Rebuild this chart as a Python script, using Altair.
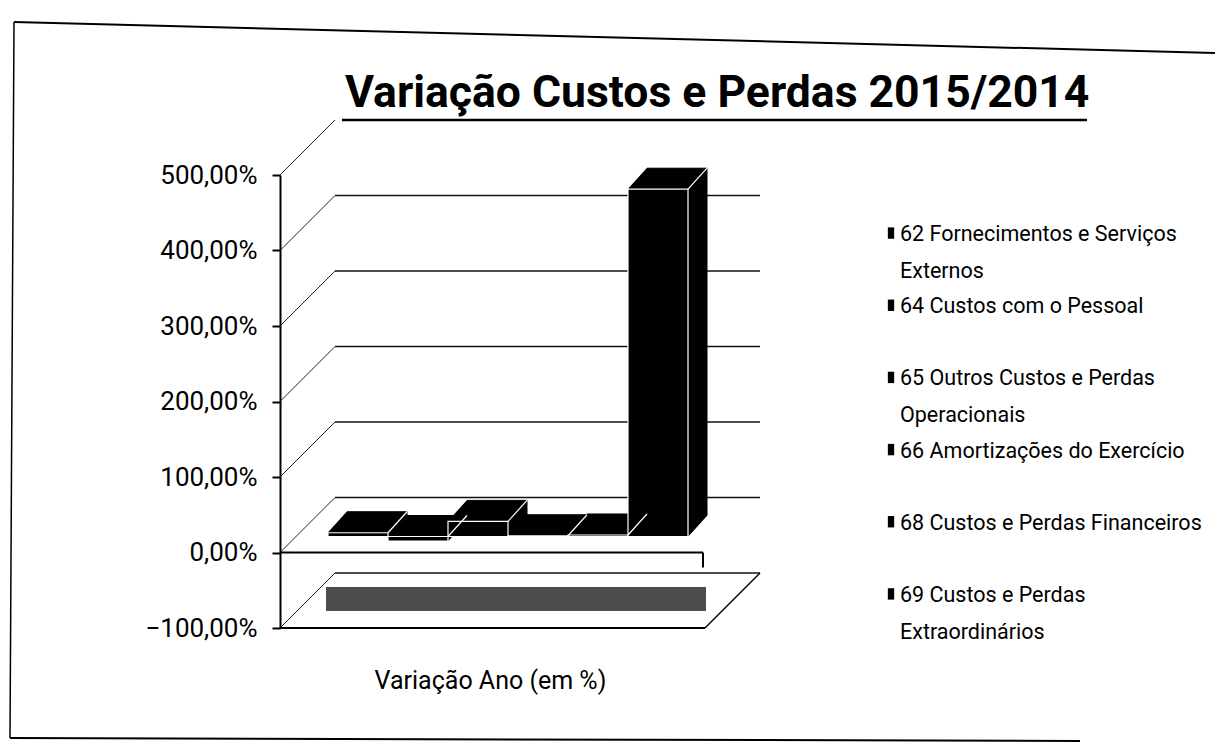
import altair as alt
import pandas as pd

# ---------------- data ----------------
TITULO = "Variação Custos e Perdas 2015/2014"
EIXO_X = "Variação Ano (em %)"

categorias = [
    "62 Fornecimentos e Serviços Externos",
    "64 Custos com o Pessoal",
    "65 Outros Custos e Perdas Operacionais",
    "66 Amortizações do Exercício",
    "68 Custos e Perdas Financeiros",
    "69 Custos e Perdas Extraordinários",
]
rotulos_legenda = [
    "62 Fornecimentos e Serviços\nExternos",
    "64 Custos com o Pessoal",
    "65 Outros Custos e Perdas\nOperacionais",
    "66 Amortizações do Exercício",
    "68 Custos e Perdas Financeiros",
    "69 Custos e Perdas\nExtraordinários",
]
variacao = [5, -6, 20, 1, 2, 460]          # % variation 2015/2014
ticks_y = [-100, 0, 100, 200, 300, 400, 500]

# ---------------- style ----------------
FONT = "Roboto, Liberation Sans, sans-serif"
W, H = 420, 453
FX, FY = 18, -16      # front face offset (pseudo 3D)
DX, DY = 19, -21      # bar depth
WX, WY = 55, -55      # wall depth
NSTEP = 24

df = pd.DataFrame({"categoria": categorias, "valor": variacao,
                   "pos": list(range(1, len(categorias) + 1))})
df_ticks = pd.DataFrame({"v": ticks_y})
df_leg = pd.DataFrame({"categoria": categorias, "rotulo": rotulos_legenda})
df_tit = pd.DataFrame({"t": [TITULO]})

xs = alt.Scale(domain=[0, len(categorias) + 1], nice=False, zero=False)
ys = alt.Scale(domain=[min(ticks_y), max(ticks_y)], nice=False, zero=False)

XA = alt.Axis(title=EIXO_X, labels=False, ticks=False, domain=False, grid=False,
              titleFont=FONT, titleFontSize=25, titleFontWeight="normal",
              titleColor="black", titlePadding=40)
YA = alt.Axis(values=ticks_y, title=None, grid=False,
              labelExpr="replace(format(datum.value, '.2f'), '.', ',') + '%'",
              labelFont=FONT, labelFontSize=26, labelColor="black", labelPadding=15,
              tickSize=8, tickWidth=2, tickColor="black",
              domainWidth=2, domainColor="black")

bars_base = alt.Chart(df).transform_calculate(
    x0="datum.pos - 0.5", x1="datum.pos + 0.5", topo="max(datum.valor, 0)"
)
ticks_base = alt.Chart(df_ticks)

# floor shading at -100
floor = bars_base.transform_aggregate(
    xmin="min(x0)", xmax="max(x1)"
).mark_rect(color="#4d4d4d", xOffset=16, x2Offset=36, yOffset=-17, y2Offset=-41).encode(
    x=alt.X("xmin:Q", scale=xs, axis=XA), x2="xmax:Q",
    y=alt.datum(-100, scale=ys, axis=YA), y2=alt.datum(-100),
)

# back-wall gridlines
back_grid = ticks_base.transform_filter("datum.v < 500").mark_rule(
    color="#111", strokeWidth=1.5, yOffset=WY, y2Offset=WY
).encode(
    x=alt.value(WX), x2=alt.value(W + 60),
    y=alt.Y("v:Q", scale=ys, axis=YA), y2="v:Q",
)

# slanted connectors from axis ticks to the back wall
slant = ticks_base.mark_rule(color="#222", strokeWidth=1, y2Offset=WY).encode(
    x=alt.value(0), x2=alt.value(WX),
    y=alt.Y("v:Q", scale=ys, axis=YA), y2="v:Q",
)

# front floor edges
front0 = alt.Chart(df_tit).mark_rule(color="black", strokeWidth=2).encode(
    x=alt.value(0), x2=alt.value(W + 3), y=alt.datum(0, scale=ys, axis=YA))
front0_tick = alt.Chart(df_tit).mark_rule(color="black", strokeWidth=2, y2Offset=15).encode(
    x=alt.value(W + 3), y=alt.datum(0, scale=ys, axis=YA), y2=alt.datum(0))
front_low = alt.Chart(df_tit).mark_rule(color="black", strokeWidth=2).encode(
    x=alt.value(0), x2=alt.value(W + 5), y=alt.datum(-100, scale=ys, axis=YA))
low_edge = alt.Chart(df_tit).mark_rule(color="black", strokeWidth=1.5, y2Offset=WY).encode(
    x=alt.value(W + 5), x2=alt.value(W + 60),
    y=alt.datum(-100, scale=ys, axis=YA), y2=alt.datum(-100))

# bars: stacked offset copies give the 3D box
bar_layers = []
for k in range(NSTEP, 0, -1):
    f = k / NSTEP
    ox, oy = FX + DX * f, FY + DY * f
    bar_layers.append(
        bars_base.mark_rect(color="black", stroke="black", strokeWidth=1,
                            xOffset=ox, x2Offset=ox, yOffset=oy, y2Offset=oy).encode(
            x=alt.X("x0:Q", scale=xs, axis=XA), x2="x1:Q",
            y=alt.Y("valor:Q", scale=ys, axis=YA), y2=alt.datum(0),
        )
    )
front = bars_base.mark_rect(color="black", stroke="white", strokeWidth=1.2,
                            xOffset=FX, x2Offset=FX, yOffset=FY, y2Offset=FY).encode(
    x=alt.X("x0:Q", scale=xs, axis=XA), x2="x1:Q",
    y=alt.Y("valor:Q", scale=ys, axis=YA), y2=alt.datum(0),
)
edge = bars_base.mark_rule(color="white", strokeWidth=1.2,
                           xOffset=FX, x2Offset=FX + DX, yOffset=FY, y2Offset=FY + DY).encode(
    x=alt.X("x1:Q", scale=xs, axis=XA), x2="x1:Q",
    y=alt.Y("topo:Q", scale=ys, axis=YA), y2="topo:Q",
)

# title (as text) with underline
title = alt.Chart(df_tit).mark_text(
    align="left", baseline="alphabetic", fontSize=44.5, fontWeight="bold",
    font=FONT, color="black").encode(x=alt.value(65), y=alt.value(-68), text="t:N")
underline = alt.Chart(df_tit).mark_rule(color="black", strokeWidth=2.5).encode(
    x=alt.value(62), x2=alt.value(807), y=alt.value(-55))

# page frame (scanned border)
frame_top = alt.Chart(df_tit).mark_rule(color="black", strokeWidth=2).encode(
    x=alt.value(-266), x2=alt.value(935), y=alt.value(-153), y2=alt.value(-122))
frame_left = alt.Chart(df_tit).mark_rule(color="black", strokeWidth=1.5).encode(
    x=alt.value(-266), x2=alt.value(-270), y=alt.value(-153), y2=alt.value(563))
frame_bot = alt.Chart(df_tit).mark_rule(color="black", strokeWidth=2).encode(
    x=alt.value(-270), x2=alt.value(800), y=alt.value(563), y2=alt.value(566))

main = alt.layer(floor, back_grid, slant, front0, front0_tick, front_low, low_edge,
                 *bar_layers, front, edge, title, underline,
                 frame_top, frame_left, frame_bot)

# legend
LS = alt.Scale(type="point", range=[22, 455])
leg_sym = alt.Chart(df_leg).mark_point(
    shape="M-0.5,-0.9L0.5,-0.9L0.5,0.9L-0.5,0.9Z", filled=True, size=160,
    color="black", opacity=1).encode(
    x=alt.value(611), y=alt.Y("categoria:N", sort=categorias, scale=LS, axis=None))
leg_txt = alt.Chart(df_leg).mark_text(
    align="left", baseline="alphabetic", dy=8, lineBreak="\n", lineHeight=37,
    fontSize=21.5, font=FONT, color="black").encode(
    x=alt.value(620), y=alt.Y("categoria:N", sort=categorias, scale=LS, axis=None),
    text="rotulo:N")
legend = alt.layer(leg_sym, leg_txt)

chart = alt.layer(main, legend).resolve_scale(y="independent").properties(
    width=W, height=H,
    padding={"left": 280, "top": 175, "right": 525, "bottom": 117},
    autosize=alt.AutoSizeParams(type="none"),
    background="white",
).configure_view(strokeOpacity=0)

chart.save("out.html", embed_options={"renderer": "svg", "actions": False})
